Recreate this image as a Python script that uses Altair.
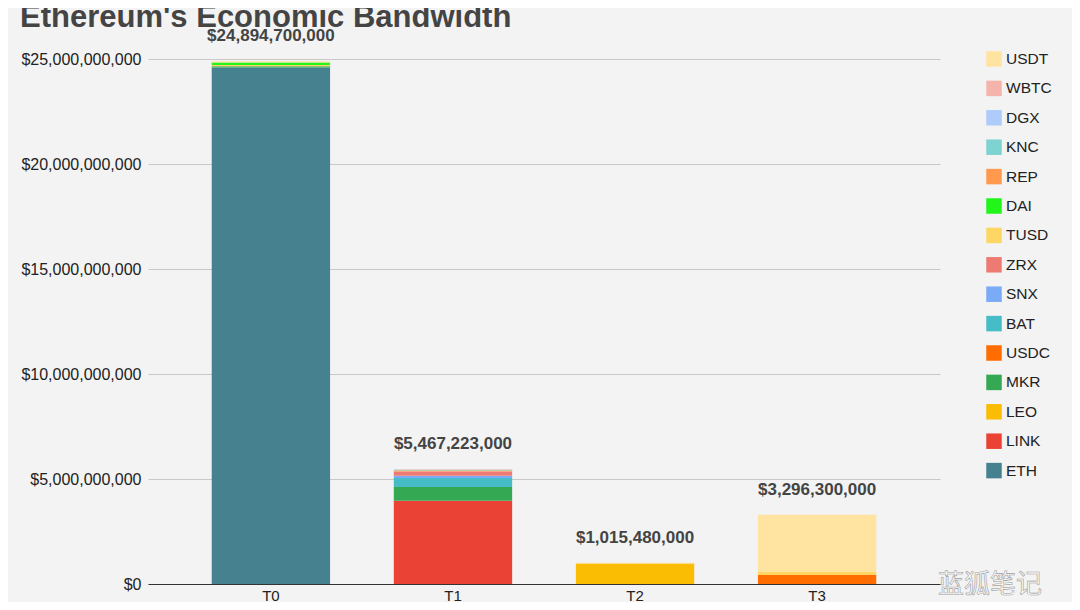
import altair as alt
import pandas as pd

# ---- data -------------------------------------------------------------
periods = ["T0", "T1", "T2", "T3"]

# stacking order, bottom -> top
stack_tokens = ["ETH", "LINK", "LEO", "MKR", "USDC", "BAT", "SNX", "ZRX",
                "TUSD", "DAI", "REP", "KNC", "DGX", "WBTC", "USDT"]

# legend order, top -> bottom
legend_tokens = ["USDT", "WBTC", "DGX", "KNC", "REP", "DAI", "TUSD", "ZRX",
                 "SNX", "BAT", "USDC", "MKR", "LEO", "LINK", "ETH"]
legend_colors = ["#FFE3A0", "#F4B4AC", "#AECBFA", "#7ED3D1", "#FF994D",
                 "#22F51A", "#FDD663", "#EE7B73", "#7BAAF7", "#46BDC6",
                 "#FF6D01", "#34A853", "#FBBC04", "#EA4335", "#45818E"]

# values in USD for T0, T1, T2, T3
ETH  = [24_600_000_000, 0, 0, 0]
LINK = [0, 3_960_000_000, 0, 0]
LEO  = [0, 0, 975_480_000, 0]
MKR  = [50_000_000, 660_000_000, 0, 0]
USDC = [0, 0, 0, 430_000_000]
BAT  = [0, 430_000_000, 0, 0]
SNX  = [0, 110_000_000, 0, 0]
ZRX  = [0, 200_000_000, 0, 0]
TUSD = [60_000_000, 0, 0, 140_000_000]
DAI  = [120_000_000, 0, 0, 0]
REP  = [0, 40_000_000, 0, 0]
KNC  = [0, 35_000_000, 0, 0]
DGX  = [0, 10_000_000, 0, 0]
WBTC = [0, 22_223_000, 0, 0]
USDT = [64_700_000, 0, 40_000_000, 2_726_300_000]

title_text = "Ethereum's Economic Bandwidth"
watermark_text = "蓝狐笔记"

series = {"ETH": ETH, "LINK": LINK, "LEO": LEO, "MKR": MKR, "USDC": USDC,
          "BAT": BAT, "SNX": SNX, "ZRX": ZRX, "TUSD": TUSD, "DAI": DAI,
          "REP": REP, "KNC": KNC, "DGX": DGX, "WBTC": WBTC, "USDT": USDT}

rows = []
for order, tok in enumerate(stack_tokens):
    for p, v in zip(periods, series[tok]):
        if v > 0:
            rows.append({"period": p, "token": tok, "value": v, "order": order})
df = pd.DataFrame(rows)

FONT = "Liberation Sans"

x_enc = alt.X("period:N", sort=periods, title=None,
              scale=alt.Scale(paddingInner=0.35, paddingOuter=0.35),
              axis=alt.Axis(labelAngle=0, labelFont=FONT, labelFontSize=15,
                            labelColor="#222", ticks=False, labelPadding=4,
                            domain=True, domainColor="#333", domainWidth=1.2,
                            grid=False))

bars = alt.Chart(df).mark_bar(strokeWidth=0).encode(
    x=x_enc,
    y=alt.Y("sum(value):Q", title=None,
            scale=alt.Scale(domain=[0, 25_000_000_000], nice=False),
            axis=alt.Axis(values=[0, 5e9, 10e9, 15e9, 20e9, 25e9],
                          format="$,.0f", labelFont=FONT, labelFontSize=16,
                          labelColor="#222", ticks=False, labelPadding=7,
                          domain=False, gridColor="#C8C8C8", gridWidth=1)),
    color=alt.Color("token:N", title=None,
                    scale=alt.Scale(domain=legend_tokens, range=legend_colors),
                    legend=alt.Legend(orient="none", legendX=838, legendY=-8,
                                      symbolType="square", symbolSize=240,
                                      symbolStrokeWidth=0, symbolOpacity=1,
                                      labelFont=FONT, labelFontSize=15.5,
                                      labelColor="#222", labelOffset=4,
                                      rowPadding=12.4, padding=0)),
    order=alt.Order("order:Q", sort="ascending"),
)

totals = alt.Chart(df).transform_aggregate(
    total="sum(value)", groupby=["period"]
).mark_text(font=FONT, fontSize=17, fontWeight="bold", color="#444",
            baseline="middle", dy=-25).encode(
    x=alt.X("period:N", sort=periods),
    y=alt.Y("total:Q"),
    text=alt.Text("total:Q", format="$,.0f"),
)

title = alt.Chart(pd.DataFrame({"t": [title_text]})).mark_text(
    font=FONT, fontSize=31, fontWeight="bold", color="#444",
    align="left", baseline="alphabetic"
).encode(text="t:N", x=alt.value(-128), y=alt.value(-32))

watermark = alt.Chart(pd.DataFrame({"t": [watermark_text]})).mark_text(
    font="Noto Sans CJK SC", fontSize=26, color="#FAFAFA", stroke="#A0A0A0",
    strokeWidth=0.6, align="left", baseline="middle"
).encode(text="t:N", x=alt.value(790), y=alt.value(526))

chart = alt.layer(bars, totals, title, watermark).properties(
    width=792, height=525,
    autosize=alt.AutoSizeParams(type="none"),
    padding={"left": 140, "top": 51, "right": 132, "bottom": 18},
).configure(background="#F3F3F3").configure_view(stroke=None)

chart.save("out.html", embed_options={"renderer": "svg", "actions": False})
